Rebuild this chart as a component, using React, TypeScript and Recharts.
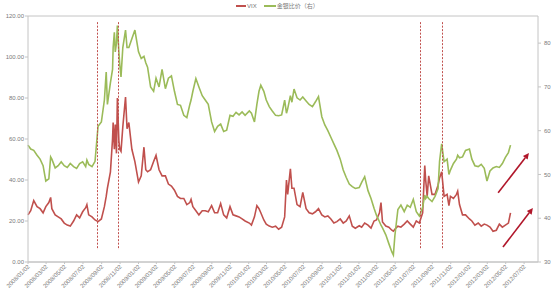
import { LineChart, Line, XAxis, YAxis, CartesianGrid, ReferenceLine } from "recharts";

// sample dates (roughly 10-day steps, extra points at spikes)
const dates = [
  // 2008
  "2008/01/02", "2008/01/11", "2008/01/21", "2008/02/01", "2008/02/11", "2008/02/21", "2008/03/01", "2008/03/11",
  "2008/03/17", "2008/03/21", "2008/04/01", "2008/04/11", "2008/04/21", "2008/05/01", "2008/05/11", "2008/05/21",
  "2008/06/01", "2008/06/11", "2008/06/21", "2008/07/01", "2008/07/11", "2008/07/15", "2008/07/21", "2008/08/01",
  "2008/08/11", "2008/08/21", "2008/09/01", "2008/09/11", "2008/09/17", "2008/09/21", "2008/10/01", "2008/10/08",
  "2008/10/10", "2008/10/14", "2008/10/17", "2008/10/21", "2008/10/24", "2008/10/29", "2008/11/01", "2008/11/05",
  "2008/11/11", "2008/11/20", "2008/11/25", "2008/12/01", "2008/12/11", "2008/12/21",
  // 2009
  "2009/01/02", "2009/01/11", "2009/01/20", "2009/01/26", "2009/02/01", "2009/02/11", "2009/02/21", "2009/03/01",
  "2009/03/11", "2009/03/21", "2009/04/01", "2009/04/11", "2009/04/21", "2009/05/01", "2009/05/11", "2009/05/21",
  "2009/06/01", "2009/06/11", "2009/06/21", "2009/06/25", "2009/07/01", "2009/07/11", "2009/07/21", "2009/08/01",
  "2009/08/11", "2009/08/21", "2009/09/01", "2009/09/11", "2009/09/21", "2009/10/01", "2009/10/11", "2009/10/21",
  "2009/11/01", "2009/11/11", "2009/11/21", "2009/12/01", "2009/12/11", "2009/12/21",
  // 2010
  "2010/01/04", "2010/01/11", "2010/01/21", "2010/01/29", "2010/02/05", "2010/02/11", "2010/02/21", "2010/03/01",
  "2010/03/11", "2010/03/21", "2010/04/01", "2010/04/11", "2010/04/21", "2010/05/01", "2010/05/07", "2010/05/11",
  "2010/05/20", "2010/05/25", "2010/06/01", "2010/06/11", "2010/06/21", "2010/06/30", "2010/07/11", "2010/07/21",
  "2010/08/01", "2010/08/11", "2010/08/21", "2010/09/01", "2010/09/11", "2010/09/21", "2010/10/01", "2010/10/11",
  "2010/10/21", "2010/11/01", "2010/11/11", "2010/11/21", "2010/12/01", "2010/12/11", "2010/12/21",
  // 2011
  "2011/01/03", "2011/01/11", "2011/01/21", "2011/02/01", "2011/02/11", "2011/02/21", "2011/03/01", "2011/03/11",
  "2011/03/16", "2011/03/21", "2011/04/01", "2011/04/11", "2011/04/21", "2011/04/26", "2011/05/01", "2011/05/11",
  "2011/05/21", "2011/06/01", "2011/06/11", "2011/06/21", "2011/07/01", "2011/07/11", "2011/07/21", "2011/08/01",
  "2011/08/08", "2011/08/11", "2011/08/16", "2011/08/21", "2011/09/01", "2011/09/11", "2011/09/21", "2011/09/26",
  "2011/10/03", "2011/10/11", "2011/10/21", "2011/10/27", "2011/11/01", "2011/11/11", "2011/11/21", "2011/11/25",
  "2011/12/01", "2011/12/11", "2011/12/21",
  // 2012
  "2012/01/03", "2012/01/11", "2012/01/21", "2012/02/01", "2012/02/11", "2012/02/21", "2012/03/01", "2012/03/11",
  "2012/03/21", "2012/04/01", "2012/04/11", "2012/04/21", "2012/05/01", "2012/05/11", "2012/05/18",
];

const vix = [
  // 2008
  23, 25, 30, 27, 26, 24, 27, 29, 31.5, 26, 23, 22, 21, 19, 18, 17.5,
  20, 23, 21.5, 24.5, 26.5, 28, 23, 22, 20.5, 19.7, 21, 27, 32, 36, 44, 60,
  68, 55, 67, 53, 80, 59, 55, 54, 66, 80.5, 65, 68, 55, 49,
  // 2009
  39, 42, 56, 45, 44, 45, 49, 52, 45, 42, 42, 38, 37, 35, 32, 31,
  31, 28, 29, 30.5, 27, 25, 23, 25, 25, 24.5, 27.5, 24, 24, 28.5, 23, 21.5,
  27, 23, 22.5, 22, 21, 20,
  // 2010
  19, 18, 22, 27.5, 26, 24, 20.5, 18.5, 17.5, 17, 17.5, 16, 17, 22, 40, 33,
  45.5, 36, 36, 28, 27, 34, 26, 24, 23.5, 24.5, 26, 23, 22, 22.5, 21, 19,
  19.7, 21, 19, 20, 22.5, 17.5, 16.5,
  // 2011
  17.7, 17, 19, 18, 16.5, 20, 20.5, 24, 29, 19.5, 17.5, 17, 15.5, 15, 16, 17.5,
  17, 18.5, 20, 18.5, 17, 20, 19, 24, 47, 40, 32, 42, 33, 33, 37.5, 41,
  44, 32, 33, 27.5, 32, 31, 33, 34.5, 28, 23, 23,
  // 2012
  21, 20, 18, 19, 17.5, 18.5, 18, 17, 15, 15.5, 18.5, 17, 18, 19, 24,
];

const goldSilver = [
  // 2008
  56.7, 55.8, 55.5, 54.4, 53.5, 52, 48.5, 49, 54, 53.5, 51.5, 52, 52.9, 52, 51.6, 52.5,
  51.8, 51.4, 52.5, 52.9, 51.8, 53.3, 52.3, 51.8, 53, 61, 62, 67, 73.4, 66, 71, 74,
  79, 82.5, 78, 80, 84, 78, 75, 72.3, 79, 83, 79, 79, 81, 83,
  // 2009
  78, 76.5, 77, 75.5, 74.5, 70, 69, 72, 70, 74, 69.6, 72, 72.5, 69, 66, 65.8,
  63.5, 63, 66, 67, 69, 71.9, 70, 68, 67, 66, 62, 59.8, 61, 61.5, 59.8, 60.1,
  63.5, 63.3, 64.2, 63.6, 64.3, 63.5,
  // 2010
  64.5, 64, 62, 66, 69, 70.4, 69, 67, 65.5, 64.5, 63.5, 63.4, 63.6, 67, 64, 65,
  68, 66.5, 69.5, 67.5, 67, 67.7, 66.8, 66, 65.5, 66.6, 67.8, 63.2, 61.3, 60, 58.5, 57,
  55.5, 53.5, 51, 49.3, 47.8, 47.2, 46.8,
  // 2011
  47, 48.2, 49.5, 46.3, 44.5, 42.3, 40.7, 39.2, 38.4, 37.8, 36.2, 34.2, 32.3, 31.6, 36, 42,
  43, 41.5, 43, 42.5, 44.3, 41.5, 40.5, 42.5, 45.3, 44.5, 45, 44.5, 43.8, 45, 46.8, 53,
  57, 52.9, 53.5, 50, 51, 52.5, 53.5, 54.4, 53.8, 54, 55.5,
  // 2012
  55.8, 53.5, 52, 51.8, 52.3, 51.4, 48.5, 50.8, 51.5, 51.8, 51.6, 52.5, 53.9, 55, 56.7,
];

const xTickDates = [
  "2008/01/02", "2008/03/02", "2008/05/02", "2008/07/02", "2008/09/02", "2008/11/02",
  "2009/01/02", "2009/03/02", "2009/05/02", "2009/07/02", "2009/09/02", "2009/11/02",
  "2010/01/02", "2010/03/02", "2010/05/02", "2010/07/02", "2010/09/02", "2010/11/02",
  "2011/01/02", "2011/03/02", "2011/05/02", "2011/07/02", "2011/09/02", "2011/11/02",
  "2012/01/02", "2012/03/02", "2012/05/02", "2012/07/02",
];
const leftTicks = [0, 20, 40, 60, 80, 100, 120];
const rightTicks = [30, 40, 50, 60, 70, 80];

// dashed event markers and trend arrows (annotations)
const eventDates = ["2008/08/19", "2008/10/27", "2011/07/24", "2011/10/03"];
const ratioArrow = { from: ["2012/04/07", 45.8], to: ["2012/07/18", 54.9] };
const vixArrow = { from: ["2012/04/23", 7.3], to: ["2012/07/31", 26.3] };

const dayNum = (s: string) => {
  const [y, m, d] = s.split("/").map(Number);
  return Date.UTC(y, m - 1, d) / 86400000;
};
const fmtDay = (v: number) => {
  const dt = new Date(v * 86400000);
  const p = (n: number) => String(n).padStart(2, "0");
  return `${dt.getUTCFullYear()}/${p(dt.getUTCMonth() + 1)}/${p(dt.getUTCDate())}`;
};

const data = dates.map((d, i) => ({ t: dayNum(d), vix: vix[i], ratio: goldSilver[i] }));

const RED = "#c0504d";
const GREEN = "#9bbb59";
const GRID = "#c4c4c4";
const TXT = "#7a7a7a";
const ARROW = "#b0162a";

const DateTick = (props: any) => {
  const { x, y, payload } = props;
  return (
    <text x={x} y={y} dy={3} transform={`rotate(-45 ${x} ${y})`} textAnchor="end" fontSize={6} fill={TXT}>
      {fmtDay(payload.value)}
    </text>
  );
};

const Arrow = (props: any) => {
  const { x1, y1, x2, y2 } = props;
  const ang = Math.atan2(y2 - y1, x2 - x1);
  const len = 6;
  const w = 3;
  const bx = x2 - len * Math.cos(ang);
  const by = y2 - len * Math.sin(ang);
  const px = -Math.sin(ang) * w;
  const py = Math.cos(ang) * w;
  return (
    <g>
      <line x1={x1} y1={y1} x2={bx} y2={by} stroke={ARROW} strokeWidth={1.6} />
      <polygon points={`${x2},${y2} ${bx + px},${by + py} ${bx - px},${by - py}`} fill={ARROW} />
    </g>
  );
};

// crisp dotted vertical marker
const EventLine = (props: any) => {
  const { x1, y1, y2 } = props;
  const x = Math.round(x1) + 0.5;
  return <line x1={x} y1={y1} x2={x} y2={y2} stroke={RED} strokeWidth={1} strokeDasharray="2 1.5" />;
};

export default function App() {
  return (
    <div style={{ position: "absolute", left: 0, top: 0, width: 553, height: 291, background: "#fff", fontFamily: "'Liberation Sans', Arial, sans-serif" }}>
      <LineChart width={553} height={291} data={data} margin={{ top: 16, right: 0, bottom: 0, left: 0 }}>
        <CartesianGrid vertical={false} stroke={GRID} />
        <XAxis
          dataKey="t"
          type="number"
          domain={[dayNum("2008/01/02"), dayNum("2012/08/17")]}
          ticks={xTickDates.map(dayNum)}
          tick={<DateTick />}
          interval={0}
          height={29}
          tickSize={2}
          tickMargin={1}
          stroke={GRID}
        />
        <YAxis
          yAxisId="left"
          domain={[0, 120]}
          ticks={leftTicks}
          tickFormatter={(v: number) => v.toFixed(2)}
          width={28}
          tickSize={3}
          tickMargin={1}
          stroke={GRID}
          tick={{ fontSize: 6, fill: TXT }}
        />
        <YAxis
          yAxisId="right"
          orientation="right"
          domain={[30, 86.2]}
          ticks={rightTicks}
          width={15}
          tickSize={3}
          tickMargin={3}
          stroke={GRID}
          tick={{ fontSize: 6, fill: TXT }}
        />
        <Line yAxisId="left" dataKey="vix" stroke={RED} strokeWidth={1.6} dot={false} isAnimationActive={false} />
        <Line yAxisId="right" dataKey="ratio" stroke={GREEN} strokeWidth={1.6} dot={false} isAnimationActive={false} />
        {eventDates.map((d) => (
          <ReferenceLine
            key={d}
            yAxisId="left"
            segment={[{ x: dayNum(d), y: 117 }, { x: dayNum(d), y: 6 }]}
            shape={EventLine}
          />
        ))}
        <ReferenceLine
          yAxisId="right"
          segment={[{ x: dayNum(ratioArrow.from[0] as string), y: ratioArrow.from[1] as number }, { x: dayNum(ratioArrow.to[0] as string), y: ratioArrow.to[1] as number }]}
          shape={Arrow}
        />
        <ReferenceLine
          yAxisId="left"
          segment={[{ x: dayNum(vixArrow.from[0] as string), y: vixArrow.from[1] as number }, { x: dayNum(vixArrow.to[0] as string), y: vixArrow.to[1] as number }]}
          shape={Arrow}
        />
      </LineChart>
      <div style={{ position: "absolute", left: 236, top: 2, display: "flex", alignItems: "center", fontSize: 6, color: TXT, lineHeight: "8px" }}>
        <span style={{ display: "inline-block", width: 10, height: 2, background: RED, marginRight: 1 }} />
        <span>VIX</span>
        <span style={{ display: "inline-block", width: 12, height: 2, background: GREEN, marginLeft: 7, marginRight: 1 }} />
        <span style={{ fontFamily: "'Noto Sans CJK SC', sans-serif" }}>金银比价（右）</span>
      </div>
    </div>
  );
}
